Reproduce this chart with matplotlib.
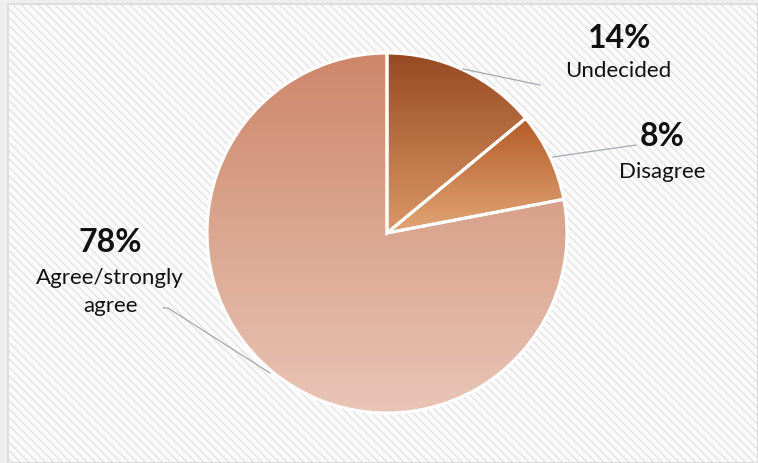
import numpy as np
import matplotlib
matplotlib.use("Agg")
import matplotlib.pyplot as plt
from matplotlib.patches import Rectangle
from matplotlib.colors import LinearSegmentedColormap

# Survey response shares (percent), clockwise from 12 o'clock
categories = ["Undecided", "Disagree", "Agree/strongly\nagree"]
values = [14, 8, 78]
pct_labels = ["14%", "8%", "78%"]

# vertical gradient (top colour, bottom colour) for each wedge
gradients = [("#974a22", "#db9866"), ("#b45c28", "#e2a676"), ("#cd876a", "#e9c5b6")]

W, H = 758, 463
fig = plt.figure(figsize=(W / 100, H / 100), dpi=100)
fig.patch.set_facecolor("#efefef")
ax = fig.add_axes([0, 0, 1, 1])
ax.set_axis_off()


def Y(y):
    return H - y


# hatched panel background
plt.rcParams["hatch.linewidth"] = 1.0
panel = Rectangle((8, 0), W - 8, H - 4, facecolor="#fbfbfb", edgecolor="#e4e4e4",
                  hatch="\\\\\\\\", linewidth=0, zorder=0)
ax.add_patch(panel)
ax.add_patch(Rectangle((8, 0), W - 8, H - 4, facecolor="none", edgecolor="#dedede",
                       linewidth=1.5, zorder=0.5))

cx, cy, r = 387, Y(233), 180
wedges, _ = ax.pie(values, startangle=90, counterclock=False, center=(cx, cy), radius=r,
                   wedgeprops=dict(edgecolor="white", linewidth=2.2), frame=True)

for w, (c_top, c_bot) in zip(wedges, gradients):
    w.set_facecolor("none")
    w.set_zorder(3)
    # vertical extent of this wedge
    th = np.radians(np.linspace(w.theta1, w.theta2, 200))
    ys = np.concatenate([[w.center[1]], w.center[1] + w.r * np.sin(th)])
    y0, y1 = ys.min(), ys.max()
    cmap = LinearSegmentedColormap.from_list("g", [c_bot, c_top])
    grad = np.linspace(0, 1, 256).reshape(-1, 1)
    im = ax.imshow(grad, cmap=cmap, origin="lower", aspect="auto",
                   extent=(cx - r, cx + r, y0, y1), zorder=2)
    im.set_clip_path(w)

ax.set_xlim(0, W)
ax.set_ylim(0, H)
ax.set_aspect("auto")
ax.set_axis_off()

# leader lines
lc = "#a3a9b0"
ax.plot([463, 540], [Y(69), Y(85)], color=lc, lw=0.9, zorder=4)
ax.plot([553, 636], [Y(157), Y(145)], color=lc, lw=0.9, zorder=4)
ax.plot([270, 168, 163], [Y(373), Y(308), Y(308)], color=lc, lw=0.9, zorder=4)

fam = ["Lato", "DejaVu Sans"]
big = dict(fontsize=23, fontweight="bold", family=fam, color="#111111",
           ha="center", va="center", zorder=5)
small = dict(fontsize=16, family=fam, color="#111111", ha="center", va="center",
             zorder=5, linespacing=1.45)

ax.text(620, Y(38), pct_labels[0], **big)
ax.text(618, Y(71), categories[0], **small)
ax.text(662, Y(137), pct_labels[1], **big)
ax.text(662, Y(172), categories[1], **small)
ax.text(110, Y(243), pct_labels[2], **big)
ax.text(110, Y(292), categories[2], **small)

fig.savefig("out.png", dpi=100, facecolor=fig.get_facecolor())
